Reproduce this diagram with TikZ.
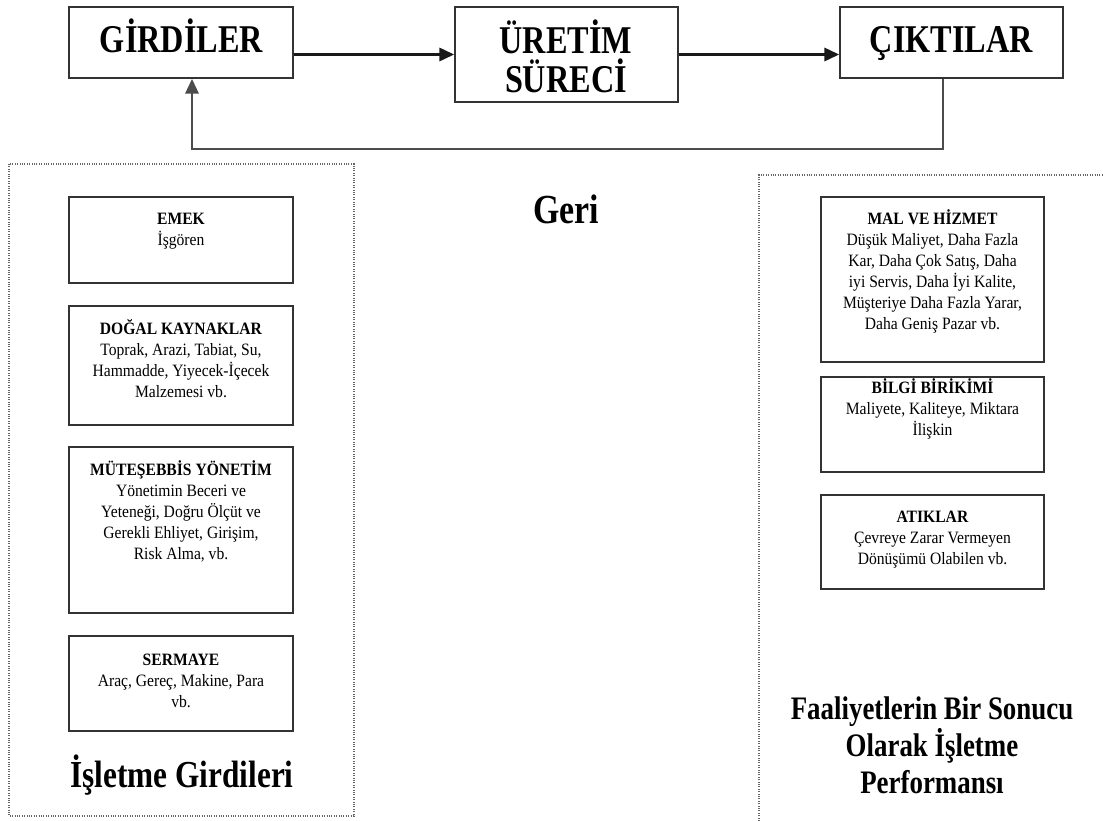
\documentclass[tikz,border=0pt]{standalone}
\usepackage{fontspec}
\setmainfont[FakeStretch=0.9]{Liberation Serif}
\newfontfamily\narrowserif[FakeStretch=0.82]{Liberation Serif}
\usetikzlibrary{arrows.meta}

% base anchors of multi-line texts sit on their last line
\tikzset{
  x=0.75pt, y=-0.75pt,
  frame/.style={draw=black!80, line width=1.4pt, fill=white, rectangle, inner sep=0pt},
  widebox/.style={frame, minimum width=168pt},
  rightbox/.style={frame, minimum width=167.25pt},
  flowtitle/.style={font=\narrowserif\bfseries\fontsize{29.5}{29.25}\selectfont, align=center, inner sep=0pt, anchor=base},
  boxtext/.style={font=\fontsize{13}{15.75}\selectfont, align=center, inner sep=0pt, anchor=base},
  bigtitle/.style={font=\narrowserif\bfseries\fontsize{28.6}{27.75}\selectfont, align=center, inner sep=0pt, anchor=base},
  flowarrow/.style={draw=black!90, line width=1.7pt, -{Triangle[length=11pt,width=10pt]}},
  backarrow/.style={draw=black!70, line width=1.5pt, -{Triangle[length=11pt,width=10pt]}},
  dotframe/.style={draw=black!60, line width=0.8pt, densely dotted},
}

\begin{document}
\begin{tikzpicture}
\useasboundingbox (0,0) rectangle (1103,821);
\fill[white] (0,0) rectangle (1103,821);

% process chain at the top
\node[frame, minimum width=168pt, minimum height=53.25pt] (girdiler) at (181,42.5) {};
\node[frame, minimum width=167.25pt, minimum height=71.25pt] (uretim) at (566.5,54.5) {};
\node[frame, minimum width=167.25pt, minimum height=53.25pt] (ciktilar) at (951.5,42.5) {};
\node[flowtitle] (girdilerT) at (181.5,52) {GİRDİLER};
\node[flowtitle] (uretimT) at (566,92) {ÜRETİM\\SÜRECİ};
\node[flowtitle] (ciktilarT) at (951.5,52) {ÇIKTILAR};

\draw[flowarrow] (girdiler.east |- uretim.west) -- (uretim.west);
\draw[flowarrow] (uretim.east) -- (ciktilar.west |- uretim.east);

% feedback loop
\coordinate (fbR) at (943,149);
\coordinate (fbL) at (192,149);
\draw[backarrow] (ciktilar.south -| fbR) -- (fbR) -- (fbL) -- (girdiler.south -| fbL);
\node[font=\narrowserif\bfseries\fontsize{31}{31}\selectfont, inner sep=0pt, anchor=base] (geri) at (566,223) {Geri};

% inputs of the enterprise
\draw[dotframe] (9,164) rectangle (354,816);
\node[widebox, minimum height=64.5pt] (emek) at (181,240) {};
\node[boxtext] (emekT) at (181,245) {\textbf{EMEK}\\İşgören};
\node[widebox, minimum height=89.25pt] (dogal) at (181,365.5) {};
\node[boxtext] (dogalT) at (181,397) {\textbf{DOĞAL KAYNAKLAR}\\Toprak, Arazi, Tabiat, Su,\\Hammadde, Yiyecek-İçecek\\Malzemesi vb.};
\node[widebox, minimum height=124.5pt] (mutesebbis) at (181,530) {};
\node[boxtext] (mutesebbisT) at (181,559) {\textbf{MÜTEŞEBBİS YÖNETİM}\\Yönetimin Beceri ve\\Yeteneği, Doğru Ölçüt ve\\Gerekli Ehliyet, Girişim,\\Risk Alma, vb.};
\node[widebox, minimum height=71.25pt] (sermaye) at (181,683.5) {};
\node[boxtext] (sermayeT) at (181,707) {\textbf{SERMAYE}\\Araç, Gereç, Makine, Para\\vb.};
\node[bigtitle] (girdiTitle) at (182,787) {İşletme Girdileri};

% results of the activities
\draw[dotframe] (759,821) -- (759,175) -- (1103,175);
\node[rightbox, minimum height=123.75pt] (mal) at (932.5,279.5) {};
\node[boxtext] (malT) at (932.5,329) {\textbf{MAL VE HİZMET}\\Düşük Maliyet, Daha Fazla\\Kar, Daha Çok Satış, Daha\\iyi Servis, Daha İyi Kalite,\\Müşteriye Daha Fazla Yarar,\\Daha Geniş Pazar vb.};
\node[rightbox, minimum height=71.25pt] (bilgi) at (932.5,424.5) {};
\node[boxtext] (bilgiT) at (932.5,435) {\textbf{BİLGİ BİRİKİMİ}\\Maliyete, Kaliteye, Miktara\\İlişkin};
\node[rightbox, minimum height=70.5pt] (atik) at (932.5,542) {};
\node[boxtext] (atikT) at (932.5,564) {\textbf{ATIKLAR}\\Çevreye Zarar Vermeyen\\Dönüşümü Olabilen vb.};
\node[bigtitle, font=\narrowserif\bfseries\fontsize{24.6}{27.75}\selectfont] (sonucTitle) at (932,793) {Faaliyetlerin Bir Sonucu\\Olarak İşletme\\Performansı};
\end{tikzpicture}
\end{document}
